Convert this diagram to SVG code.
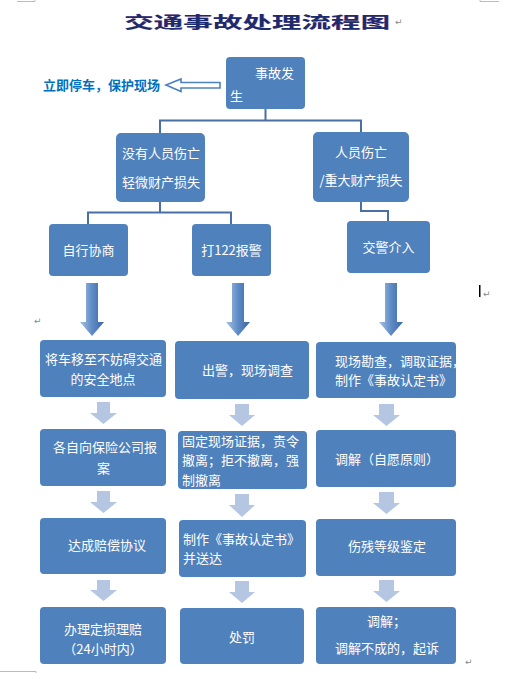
<svg xmlns="http://www.w3.org/2000/svg" width="507" height="673" viewBox="0 0 507 673">
<defs>
<style>
.box{fill:#4f81bd;}
.t{font-family:"Noto Sans CJK SC","Liberation Sans",sans-serif;font-size:13px;fill:#ffffff;}
.m{text-anchor:middle;}
.conn{fill:none;stroke:#4a6fa5;stroke-width:2;}
.sa{fill:#b4c6e2;}
.mark{font-family:"DejaVu Sans",sans-serif;font-size:9px;fill:#888888;}
.corner{fill:none;stroke:#bbbbbb;stroke-width:1;}
</style>
<linearGradient id="bg" x1="0" y1="0" x2="1" y2="0">
<stop offset="0" stop-color="#a9c1e3"/>
<stop offset="0.5" stop-color="#5f8cc6"/>
<stop offset="1" stop-color="#3b65a1"/>
</linearGradient>
</defs>
<rect width="507" height="673" fill="#ffffff"/>
<g id="page-marks">
<path class="corner" d="M17,1.5 H35 V0 M480,0 V1.5 H499 M0,671.5 H36 V673"/>
<text class="mark" x="395" y="25">↵</text>
<text class="mark" x="34" y="324">↵</text>
<text class="mark" x="483" y="297">↵</text>
<text class="mark" x="465" y="665">↵</text>
<rect x="479" y="285" width="1.5" height="12" fill="#000000"/>
</g>
<g id="title">
<text x="124" y="27.5" textLength="266" lengthAdjust="spacingAndGlyphs" style="font-family:'Noto Sans CJK SC',sans-serif;font-size:16px;font-weight:bold;fill:#e8b0b8;" transform="translate(0.8,0.8)">交通事故处理流程图</text>
<text x="124" y="27.5" textLength="266" lengthAdjust="spacingAndGlyphs" style="font-family:'Noto Sans CJK SC',sans-serif;font-size:16px;font-weight:bold;fill:#1c2a6e;">交通事故处理流程图</text>
</g>
<g id="connectors">
<path class="conn" d="M265.5,109 V120.5 M160,133 V120.5 H361 V132"/>
<path class="conn" d="M160,202 V212.5 M88,224 V212.5 H231 V224"/>
<path class="conn" d="M361,202 V211 H388 V221"/>
<path d="M166,85 L181,79 L181,82.5 L220,82.5 L220,88 L181,88 L181,91.5 Z" fill="#ffffff" stroke="#4f81bd" stroke-width="1.6"/>
<path d="M86,283 H98 V322 H104 L92,336 L80,322 H86 Z" fill="url(#bg)"/>
<path d="M232,283 H244 V322 H250 L238,336 L226,322 H232 Z" fill="url(#bg)"/>
<path d="M385,283 H397 V322 H403 L391,336 L379,322 H385 Z" fill="url(#bg)"/>
<path class="sa" d="M97,402 H110 V413 H117 L103.5,424 L90,413 H97 Z"/>
<path class="sa" d="M235,404 H249 V415 H255 L242,426 L229,415 H235 Z"/>
<path class="sa" d="M379,404 H394 V415 H400 L386.5,426 L373,415 H379 Z"/>
<path class="sa" d="M97,491 H110 V502 H117 L103.5,513 L90,502 H97 Z"/>
<path class="sa" d="M235,494 H249 V505 H255 L242,517 L229,505 H235 Z"/>
<path class="sa" d="M379,492 H394 V503 H400 L386.5,514 L373,503 H379 Z"/>
<path class="sa" d="M97,580 H110 V590 H117 L103.5,601 L90,590 H97 Z"/>
<path class="sa" d="M235,581 H249 V592 H255 L242,603 L229,592 H235 Z"/>
<path class="sa" d="M379,580 H394 V591 H400 L386.5,602 L373,591 H379 Z"/>
</g>
<g id="label-stop">
<text x="43" y="89.5" style="font-family:'Noto Sans CJK SC',sans-serif;font-size:13px;font-weight:bold;fill:#0070c0;">立即停车，保护现场</text>
</g>
<g id="n-accident">
<rect class="box" x="226" y="57" width="79" height="52" rx="4"/>
<text class="t" x="255" y="78">事故发</text>
<text class="t" x="230" y="100.5">生</text>
</g>
<g id="n-noinjury">
<rect class="box" x="116" y="133" width="89" height="69" rx="5"/>
<text class="t m" x="161" y="158">没有人员伤亡</text>
<text class="t m" x="161" y="187">轻微财产损失</text>
</g>
<g id="n-injury">
<rect class="box" x="313" y="132" width="96" height="70" rx="5"/>
<text class="t m" x="361" y="157">人员伤亡</text>
<text class="t m" x="361" y="185">/重大财产损失</text>
</g>
<g id="n-negotiate">
<rect class="box" x="49" y="224" width="79" height="52" rx="4"/>
<text class="t m" x="88.5" y="254.5">自行协商</text>
</g>
<g id="n-call">
<rect class="box" x="192" y="224" width="79" height="52" rx="4"/>
<text class="t m" x="231.5" y="254.5">打122报警</text>
</g>
<g id="n-police">
<rect class="box" x="347" y="221" width="83" height="52" rx="4"/>
<text class="t m" x="388.5" y="251.5">交警介入</text>
</g>
<g id="n-move">
<rect class="box" x="40" y="340" width="126" height="57" rx="4"/>
<text class="t m" x="103.5" y="363.5">将车移至不妨碍交通</text>
<text class="t m" x="103" y="383.5">的安全地点</text>
</g>
<g id="n-survey">
<rect class="box" x="175" y="341" width="134" height="58" rx="4"/>
<text class="t" x="202" y="374.5">出警，现场调查</text>
</g>
<g id="n-evidence">
<rect class="box" x="316" y="342" width="140" height="56" rx="4"/>
<text class="t" x="335" y="365.5">现场勘查，调取证据，</text>
<text class="t" x="335" y="384.5">制作《事故认定书》</text>
</g>
<g id="n-insurance">
<rect class="box" x="40" y="429" width="126" height="57" rx="4"/>
<text class="t m" x="105" y="451.5">各自向保险公司报</text>
<text class="t m" x="103.5" y="472.5">案</text>
</g>
<g id="n-fix">
<rect class="box" x="178" y="431" width="129" height="58" rx="4"/>
<text class="t" x="182" y="445.5">固定现场证据，责令</text>
<text class="t" x="182" y="464.5">撤离；拒不撤离，强</text>
<text class="t" x="182" y="484.5">制撤离</text>
</g>
<g id="n-mediate">
<rect class="box" x="316" y="430" width="140" height="57" rx="4"/>
<text class="t m" x="387" y="463.5">调解（自愿原则）</text>
</g>
<g id="n-agreement">
<rect class="box" x="40" y="518" width="126" height="56" rx="4"/>
<text class="t m" x="107" y="549.5">达成赔偿协议</text>
</g>
<g id="n-report">
<rect class="box" x="179" y="520" width="127" height="57" rx="4"/>
<text class="t" x="183" y="543.5">制作《事故认定书》</text>
<text class="t" x="183" y="562.5">并送达</text>
</g>
<g id="n-disability">
<rect class="box" x="316" y="519" width="140" height="57" rx="4"/>
<text class="t m" x="387" y="550.5">伤残等级鉴定</text>
</g>
<g id="n-claim">
<rect class="box" x="40" y="607" width="126" height="57" rx="4"/>
<text class="t m" x="103" y="633.5">办理定损理赔</text>
<text class="t m" x="103" y="653.5">（24小时内）</text>
</g>
<g id="n-penalty">
<rect class="box" x="180" y="608" width="124" height="56" rx="4"/>
<text class="t m" x="242" y="641.5">处罚</text>
</g>
<g id="n-sue">
<rect class="box" x="316" y="607" width="140" height="57" rx="4"/>
<text class="t" x="367" y="625.5">调解；</text>
<text class="t" x="335" y="652.5">调解不成的，起诉</text>
</g>
</svg>
